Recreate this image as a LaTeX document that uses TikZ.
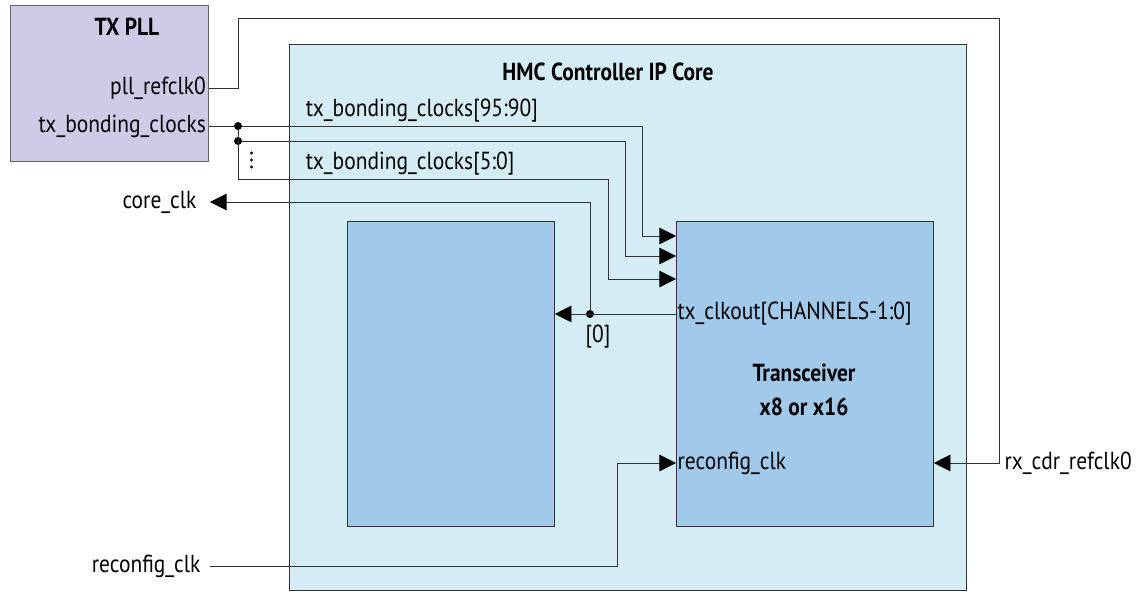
\documentclass[tikz,border=0pt]{standalone}
\usepackage{fontspec}
\setmainfont{PT Sans}[FakeStretch=0.87]
\usetikzlibrary{arrows.meta}
\definecolor{pllfill}{HTML}{CFCBE6}
\definecolor{corefill}{HTML}{D4ECF4}
\definecolor{blockfill}{HTML}{A0C9EA}

\begin{document}
\begin{tikzpicture}[x=0.75pt, y=-0.75pt, >={Triangle[length=12.5pt,width=12.5pt,color=black]},
	font=\fontsize{18.5}{22}\selectfont,
	box/.style={draw=black!80, line width=0.6pt, inner sep=0pt, anchor=north west},
	title/.style={font=\fontsize{18.5}{25.5}\selectfont\bfseries, align=center},
	sig/.style={inner sep=2pt},
	wire/.style={draw=black!80, line width=0.7pt},
	dot/.style={circle, fill=black, inner sep=0pt, minimum size=6pt}]

	\useasboundingbox (0,0) rectangle (1140,592);

	\node [box, fill=pllfill, draw=black!60, minimum width=148.5pt, minimum height=117pt]
	(pll) at (10,5) {};
	\node [box, fill=corefill, minimum width=507.75pt, minimum height=409.5pt]
	(hmc) at (289,44) {};
	\node [box, fill=blockfill, minimum width=155.25pt, minimum height=228.75pt]
	(core) at (347,221) {};
	\node [box, fill=blockfill, minimum width=192.75pt, minimum height=228.75pt]
	(xcvr) at (676,221) {};

	\node [title] (plltitle) at (127,27) {TX PLL};
	\node [title] (hmctitle) at (608,72) {HMC Controller IP Core};
	\node [title] (xcvrtitle) at (804,390) {Transceiver\\x8 or x16};

	\node [sig, anchor=east] (refclk) at (pll.east |- 0,88) {pll\_refclk0};
	\node [sig, anchor=east] (bond) at (pll.east |- 0,126) {tx\_bonding\_clocks};
	\node [sig, anchor=west] (bondhi) at (303,111) {tx\_bonding\_clocks[95:90]};
	\node [sig, anchor=west] (bondlo) at (303,164) {tx\_bonding\_clocks[5:0]};
	\node [sig, anchor=east, inner xsep=10pt] (coreclk) at (210,202) {core\_clk};
	\node [sig, anchor=east, inner xsep=7pt] (rclk) at (210,566) {reconfig\_clk};
	\node [sig, anchor=west, inner xsep=4pt] (rxcdr) at (999,463) {rx\_cdr\_refclk0};
	\node [sig, anchor=west, inner xsep=1pt] (clkout) at (676,314) {tx\_clkout[CHANNELS-1:0]};
	\node [sig, anchor=west, inner xsep=1pt] (rclkin) at (676,463) {reconfig\_clk};
	\node [sig] (bit0) at (598,337) {[0]};

	\foreach \y in {153,160,167}
		\fill (251.5,\y) circle (1.2pt);

	\node [dot] (j1) at (238,126) {};
	\node [dot] (j2) at (238,141) {};
	\node [dot] (j3) at (590,314) {};

	\draw[wire, ->] (refclk.east) -| (238,18) -| (rxcdr.west) -- (xcvr.east |- rxcdr.west);
	\draw[wire, ->] (bond.east) -- (j1) -| (642,236) -- (xcvr.west |- 0,236);
	\draw[wire, ->] (j2) -| (625,256) -- (xcvr.west |- 0,256);
	\draw[wire, ->] (j1) -- (238,179) -| (608,279) -- (xcvr.west |- 0,279);
	\draw[wire, ->] (clkout.west) -- (core.east |- clkout.west);
	\draw[wire, ->] (j3) |- (coreclk.east);
	\draw[wire, ->] (rclk.east) -| (617,463) -- (rclkin.west);
\end{tikzpicture}
\end{document}
